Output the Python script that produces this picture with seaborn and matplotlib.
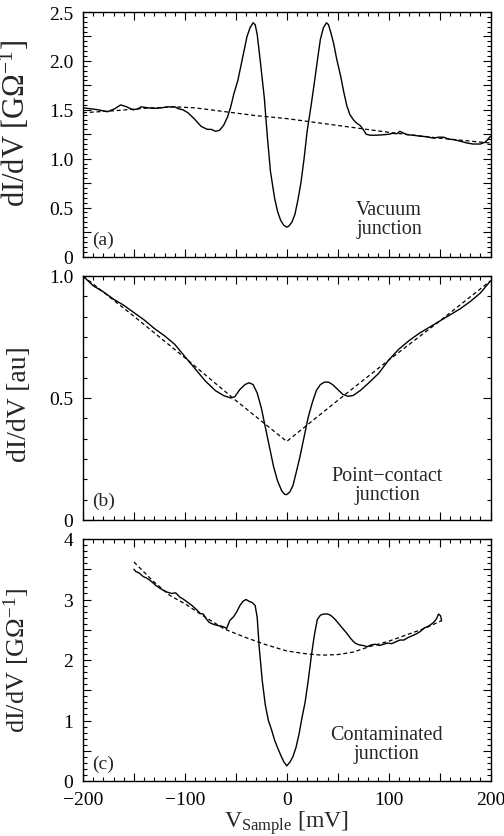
import matplotlib
matplotlib.use("Agg")
import matplotlib.pyplot as plt
from matplotlib.ticker import MultipleLocator, FuncFormatter
import seaborn as sns
import pandas as pd

# ---------------- data ----------------
# Panel (a) vacuum junction
va_v = [-200, -192, -185, -176, -169, -163, -157, -151, -146, -143, -136, -130, -123, -117, -110,
        -106, -102, -97, -91, -84, -78, -74, -70, -66, -62, -58, -55, -52, -48, -45, -42, -39,
        -36, -33, -31, -29, -26, -22, -19, -16, -12, -9, -6, -3, 0, 2, 5, 8, 11, 14, 17, 20,
        24, 27, 30, 33, 36, 39, 41, 43, 46, 49, 53, 56, 59, 62, 66, 69, 72, 75, 78, 82, 88,
        95, 100, 104, 108, 111, 115, 118, 124, 131, 137, 144, 149, 154, 159, 164, 170, 177,
        183, 190, 195, 200]
va_g = [1.52, 1.51, 1.50, 1.48, 1.51, 1.55, 1.53, 1.50, 1.51, 1.53, 1.52, 1.515, 1.52, 1.53,
        1.53, 1.51, 1.50, 1.47, 1.41, 1.33, 1.30, 1.30, 1.28, 1.29, 1.34, 1.43, 1.53, 1.66,
        1.80, 1.95, 2.10, 2.25, 2.34, 2.39, 2.37, 2.27, 2.00, 1.62, 1.22, 0.87, 0.60, 0.46,
        0.37, 0.32, 0.30, 0.31, 0.35, 0.43, 0.58, 0.76, 1.00, 1.28, 1.55, 1.77, 2.00, 2.22,
        2.34, 2.39, 2.37, 2.30, 2.18, 2.02, 1.84, 1.68, 1.54, 1.45, 1.39, 1.36, 1.34, 1.30,
        1.25, 1.24, 1.24, 1.245, 1.25, 1.26, 1.255, 1.28, 1.26, 1.245, 1.24, 1.23, 1.225,
        1.21, 1.22, 1.22, 1.20, 1.195, 1.18, 1.16, 1.15, 1.15, 1.17, 1.23]
va_bg_v = [-200, -170, -140, -110, -90, -60, -30, 0, 50, 100, 150, 200]
va_bg_g = [1.47, 1.49, 1.515, 1.53, 1.52, 1.48, 1.44, 1.41, 1.34, 1.27, 1.21, 1.16]

# Panel (b) point-contact junction
vb_v = [-200, -190, -180, -170, -160, -150, -140, -130, -120, -110, -100, -90, -80, -70, -62,
        -55, -51, -46, -41, -37, -33, -29, -25, -21, -17, -13, -9, -5, -2, 0, 3, 6, 9, 13,
        17, 21, 25, 29, 33, 37, 41, 45, 50, 55, 60, 65, 72, 80, 90, 100, 110, 120, 130, 140,
        150, 160, 170, 180, 190, 200]
vb_g = [1.0, 0.96, 0.935, 0.905, 0.88, 0.85, 0.82, 0.785, 0.755, 0.72, 0.67, 0.62, 0.57, 0.53,
        0.51, 0.50, 0.505, 0.535, 0.555, 0.5625, 0.555, 0.52, 0.46, 0.38, 0.30, 0.22, 0.16,
        0.12, 0.105, 0.104, 0.115, 0.14, 0.19, 0.26, 0.34, 0.42, 0.48, 0.53, 0.555, 0.565,
        0.565, 0.555, 0.535, 0.515, 0.507, 0.51, 0.53, 0.56, 0.60, 0.655, 0.70, 0.735, 0.765,
        0.79, 0.815, 0.84, 0.865, 0.895, 0.93, 0.98]
vb_bg_v = [-200, -150, -100, -50, 0, 50, 100, 150, 200]
vb_bg_g = [1.0, 0.835, 0.665, 0.49, 0.322, 0.49, 0.655, 0.815, 0.98]

# Panel (c) contaminated junction
vc_v = [-150, -148, -145, -141, -137, -133, -129, -125, -121, -117, -113, -109, -105, -101, -97,
        -93, -89, -85, -82, -79, -76, -72, -68, -64, -61, -59, -56, -52, -49, -46, -43, -40,
        -37, -34, -31, -29, -27, -24, -21, -18, -15, -12, -9, -6, -3, 0, 3, 6, 9, 12, 15, 18,
        21, 24, 27, 30, 33, 36, 40, 43, 47, 51, 55, 59, 63, 67, 71, 75, 79, 83, 87, 91, 95,
        99, 103, 107, 111, 115, 119, 123, 127, 131, 135, 138, 141, 144, 147, 149, 151, 152]
vc_g = [3.50, 3.46, 3.44, 3.38, 3.35, 3.30, 3.24, 3.19, 3.15, 3.12, 3.10, 3.11, 3.04, 3.00,
        2.95, 2.90, 2.84, 2.77, 2.76, 2.68, 2.62, 2.59, 2.57, 2.56, 2.54, 2.52, 2.65, 2.72,
        2.80, 2.90, 2.97, 3.00, 2.97, 2.95, 2.90, 2.70, 2.20, 1.65, 1.25, 1.00, 0.85, 0.68,
        0.55, 0.43, 0.32, 0.25, 0.31, 0.40, 0.55, 0.77, 1.05, 1.30, 1.65, 2.05, 2.40, 2.67,
        2.74, 2.76, 2.76, 2.74, 2.68, 2.60, 2.52, 2.44, 2.35, 2.28, 2.25, 2.24, 2.22, 2.25,
        2.26, 2.24, 2.26, 2.28, 2.27, 2.30, 2.33, 2.33, 2.37, 2.40, 2.43, 2.47, 2.53, 2.55,
        2.58, 2.62, 2.68, 2.76, 2.73, 2.65]
vc_bg_v = [-150, -131, -115, -99, -82, -61, -40, -20, 0, 20, 35, 50, 65, 81, 100, 115, 135, 152]
vc_bg_g = [3.62, 3.30, 3.07, 2.92, 2.73, 2.51, 2.37, 2.25, 2.15, 2.10, 2.08, 2.09, 2.13, 2.22,
           2.31, 2.40, 2.52, 2.65]

panel_tags = ["(a)", "(b)", "(c)"]
panel_names = ["Vacuum\njunction", "Point\u2212contact\njunction", "Contaminated\njunction"]
ylabels = ["dI/dV [G\u03a9$^{-1}$]", "dI/dV [au]", "dI/dV [G\u03a9$^{-1}$]"]

# ---------------- style ----------------
sns.set_style("ticks")
plt.rcParams["font.family"] = ["Liberation Serif", "DejaVu Serif"]
plt.rcParams["mathtext.fontset"] = "custom"
plt.rcParams["mathtext.rm"] = "Liberation Serif"
plt.rcParams["mathtext.it"] = "Liberation Serif:italic"
plt.rcParams["axes.linewidth"] = 1.0
plt.rcParams["axes.edgecolor"] = "black"

fig = plt.figure(figsize=(5.04, 8.37), dpi=100)
W = 504.0
H = 837.0
left, right = 83, 490.5
boxes = [(13, 257.5), (277, 521), (540, 782)]
axes = []
for top, bot in boxes:
    ax = fig.add_axes([left / W, 1 - bot / H, (right - left) / W, (bot - top) / H])
    axes.append(ax)

solid = [(va_v, va_g), (vb_v, vb_g), (vc_v, vc_g)]
dashed = [(va_bg_v, va_bg_g), (vb_bg_v, vb_bg_g), (vc_bg_v, vc_bg_g)]
ylims = [(0, 2.5), (0, 1.0), (0, 4)]
ymajor = [0.25, 0.5, 0.5]
yminor = [0.05, 1 / 12, 0.1]
label_every = [0.5, 0.5, 1.0]
ylabel_sizes = [22, 20, 19]
ylabel_y = [0.55, 0.48, 0.50]


def make_fmt(step):
    def f(v, pos):
        r = round(v / step)
        if abs(v - r * step) > 1e-6:
            return ""
        if abs(v) < 1e-9:
            return "0"
        if step >= 1:
            return "%d" % round(v)
        return "%.1f" % v
    return f


for i, ax in enumerate(axes):
    d1 = pd.DataFrame({"V": solid[i][0], "G": solid[i][1]})
    d2 = pd.DataFrame({"V": dashed[i][0], "G": dashed[i][1]})
    sns.lineplot(data=d2, x="V", y="G", ax=ax, color="black", lw=0.9,
                 linestyle=(0, (3.2, 2.2)), estimator=None, sort=False)
    sns.lineplot(data=d1, x="V", y="G", ax=ax, color="black", lw=1.0,
                 estimator=None, sort=False)
    ax.set_xlim(-200, 200)
    ax.set_ylim(*ylims[i])
    ax.xaxis.set_major_locator(MultipleLocator(50))
    ax.xaxis.set_minor_locator(MultipleLocator(10))
    ax.yaxis.set_major_locator(MultipleLocator(ymajor[i]))
    ax.yaxis.set_minor_locator(MultipleLocator(yminor[i]))
    ax.yaxis.set_major_formatter(FuncFormatter(make_fmt(label_every[i])))
    ax.tick_params(which="both", direction="in", top=True, right=True, width=0.8,
                   colors="black", labelsize=14)
    ax.tick_params(which="major", length=5.5, pad=7)
    ax.tick_params(which="minor", length=2.8)
    if i < 2:
        ax.set_xticklabels([])
        ax.set_xlabel("")
    else:
        ax.xaxis.set_major_formatter(FuncFormatter(
            lambda v, p: ("\u2212%d" % abs(v) if v < 0 else "%d" % v) if round(v) % 100 == 0 else ""))
        ax.set_xlabel("V$_{\\rm Sample}$ [mV]", fontsize=17, labelpad=0)
    ax.set_ylabel(ylabels[i], fontsize=ylabel_sizes[i])
    ax.yaxis.set_label_coords(-0.125, ylabel_y[i])
    for s in ax.spines.values():
        s.set_linewidth(1.0)
        s.set_color("black")

tag_y = [0.07, 0.08, 0.072]
name_pos = [(0.751, 0.153), (0.747, 0.143), (0.745, 0.153)]
for i, ax in enumerate(axes):
    ax.text(0.05, tag_y[i], panel_tags[i], transform=ax.transAxes, fontsize=14,
            ha="center", va="center")
    ax.text(name_pos[i][0], name_pos[i][1], panel_names[i], transform=ax.transAxes,
            fontsize=14.5, ha="center", va="center", linespacing=1.05)

fig.savefig("out.png", dpi=100, facecolor="white")
